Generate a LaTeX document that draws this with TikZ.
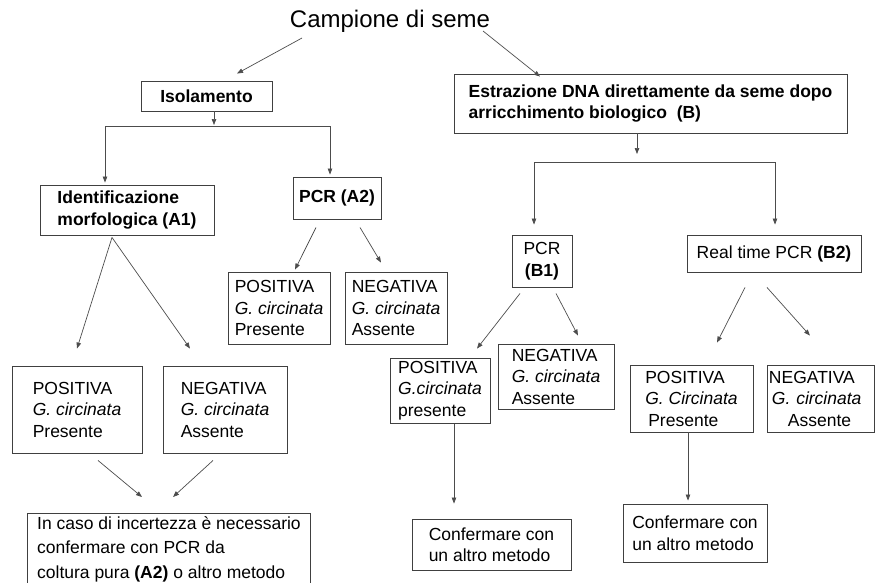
\documentclass[tikz,border=0pt]{standalone}
\usepackage{fontspec}
\setmainfont{Liberation Sans}
\usetikzlibrary{positioning, arrows.meta, calc}

\begin{document}
\begin{tikzpicture}[x=1pt, y=-1pt,
    box/.style={draw=black!75, line width=0.9pt, rectangle, inner xsep=3pt, inner ysep=2pt, align=left, font=\fontsize{17.5}{21.5}\selectfont},
    bbox/.style={box, font=\fontsize{17.5}{21.5}\selectfont\bfseries},
    arr/.style={-{Triangle[length=6pt,width=4.5pt]}, draw=black!70, line width=0.7pt}
]
    \useasboundingbox (0,0) rectangle (875,582);

    % --- Top ---
    \node[font=\fontsize{24}{28}\selectfont] (title) at (390,21) {Campione di seme};

    \node[bbox, minimum width=131, minimum height=30] (iso) at (206.5,96) {Isolamento};
    \node[bbox, minimum width=393, minimum height=59] (estr) at (650.5,103.5) {Estrazione DNA direttamente da seme dopo\\arricchimento biologico~ (B)};

    \draw[arr] ($(title.center)+(-88,17)$) -- ($(iso.north)+(30.5,-7)$);
    \draw[arr] ($(title.center)+(93,10)$) -- ($(estr.north)+(-110.5,3)$);

    % --- Branch A ---
    \node[bbox, minimum width=174, minimum height=50] (idm) at (127,210) {Identificazione\\morfologica (A1)};
    \node[bbox, minimum width=88, minimum height=42] (pcra) at (337,198) {PCR (A2)};

    \coordinate (forkA) at (214,126);
    \draw[arr] ($(iso.south)+(7.5,0)$) -- ($(forkA)+(0,-1)$);
    \draw[arr] (forkA) -| ($(idm.north)+(-22,-2)$);
    \draw[arr] (forkA) -| ($(pcra.north)+(-7,-2)$);

    \node[box, minimum width=102, minimum height=72] (posa) at (279,308) {POSITIVA\\\textit{G. circinata}\\Presente};
    \node[box, minimum width=102, minimum height=72] (nega) at (396,308) {NEGATIVA\\\textit{G. circinata}\\Assente};
    \draw[arr] ($(pcra.south)+(-21,8)$) -- ($(posa.north)+(16,-2)$);
    \draw[arr] ($(pcra.south)+(23,8)$) -- ($(nega.north)+(-15,-9)$);

    \node[box, minimum width=130, minimum height=87] (posm) at (77,409.5) {POSITIVA\\\textit{G. circinata}\\Presente};
    \node[box, minimum width=124, minimum height=87] (negm) at (225,409.5) {NEGATIVA\\\textit{G. circinata}\\Assente};
    \draw[arr] ($(idm.south)+(-15,2)$) -- ($(posm.north)+(0,-17)$);
    \draw[arr] ($(idm.south)+(-15,2)$) -- ($(negm.north)+(-35,-17)$);

    \node[box, anchor=north west, minimum width=283, inner ysep=3pt, font=\fontsize{17.5}{24.5}\selectfont] (incert) at (27,513) {In caso di incertezza è necessario\\confermare con PCR da\\coltura pura \textbf{(A2)} o altro metodo};
    \draw[arr] ($(posm.south)+(21,7)$) -- ($(incert.north west)+(115,-16)$);
    \draw[arr] ($(negm.south)+(-12,7)$) -- ($(incert.north west)+(146,-16)$);

    % --- Branch B ---
    \node[box, align=center, minimum width=60, minimum height=52] (pcrb) at (542,261) {PCR\\\textbf{(B1)}};
    \node[box, minimum width=174, minimum height=37] (rtpcr) at (774,253.5) {Real time PCR \textbf{(B2)}};

    \coordinate (forkB) at (637,162);
    \draw[arr] ($(estr.south)+(-13.5,0)$) -- ($(forkB)+(0,-8)$);
    \draw[arr] (forkB) -| ($(pcrb.north)+(-8,-10)$);
    \draw[arr] (forkB) -| ($(rtpcr.north)+(1,-10)$);

    \node[box, minimum width=100, minimum height=65] (posb) at (440,390.5) {POSITIVA\\\textit{G.circinata}\\presente};
    \node[box, minimum width=116, minimum height=65] (negb) at (556,376.5) {NEGATIVA\\\textit{G. circinata}\\Assente};
    \draw[arr] ($(pcrb.south)+(-22,6)$) -- ($(posb.north)+(37,-9)$);
    \draw[arr] ($(pcrb.south)+(14,6)$) -- ($(negb.north)+(22,-8)$);

    \node[box, minimum width=123, minimum height=67] (posr) at (691.5,398.5) {POSITIVA\\\textit{G. Circinata}\\\hspace*{3pt}Presente};
    \node[box, anchor=west, text width=104pt, inner xsep=1.5pt, minimum height=67] (negr) at (767,398.5) {NEGATIVA\\\hspace*{3pt}\textit{G. circinata}\\\hspace*{19pt}Assente};
    \draw[arr] ($(rtpcr.south)+(-29,15)$) -- ($(posr.north)+(25.5,-22)$);
    \draw[arr] ($(rtpcr.south)+(-7,15)$) -- ($(negr.north)+(-11,-29)$);

    \node[box, minimum width=159, minimum height=51] (confb) at (491.5,544.5) {Confermare con\\un altro metodo};
    \node[box, minimum width=144, minimum height=58] (confr) at (695,533) {Confermare con\\un altro metodo};
    \draw[arr] ($(posb.south)+(14,1)$) -- ($(confb.north)+(-37.5,-15)$);
    \draw[arr] ($(posr.south)+(-3.5,0)$) -- ($(confr.north)+(-7,-3)$);
\end{tikzpicture}
\end{document}
